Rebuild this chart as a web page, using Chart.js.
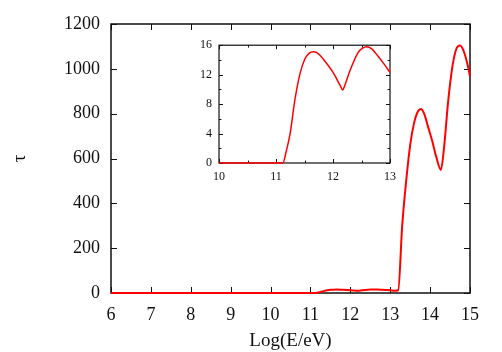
<!DOCTYPE html>
<html>
<head>
<meta charset="utf-8">
<script src="https://cdn.jsdelivr.net/npm/chart.js@4.4.0/dist/chart.umd.min.js"></script>
<style>
body { margin: 0; background: #fff; }
#wrap { position: relative; width: 502px; height: 352px; }
#main { position: absolute; left: 0; top: 0; }
#inset { position: absolute; left: 180px; top: 31px; }
</style>
</head>
<body>
<div id="wrap">
	<canvas id="main" width="502" height="352"></canvas>
	<canvas id="inset" width="230" height="165"></canvas>
</div>
<script>
// flat part below 10
var baseE = [6, 8];
var baseTau = [0, 0];

// low energy bump (shown in inset)
var lowE = [10, 11.1, 11.12, 11.18, 11.25, 11.33, 11.42, 11.51, 11.58, 11.66, 11.75, 11.83, 11.92, 12.0, 12.08, 12.14, 12.17, 12.2, 12.3, 12.44, 12.52, 12.59, 12.68, 12.78, 12.9, 13.0];
var lowTau = [0, 0, 0, 1.6, 4.1, 8.5, 12.1, 14.2, 14.9, 15.1, 14.8, 14.1, 13.2, 12.3, 11.2, 10.3, 9.9, 10.4, 12.6, 15.0, 15.6, 15.8, 15.5, 14.6, 13.4, 12.3];

// high energy part
var highE = [13.1, 13.2, 13.3, 13.4, 13.5, 13.6, 13.7, 13.77, 13.85, 13.95, 14.05, 14.15, 14.27, 14.35, 14.45, 14.55, 14.65, 14.75, 14.85, 14.95, 15.0];
var highTau = [10, 12, 300, 500, 660, 760, 812, 821, 800, 740, 680, 610, 549, 650, 850, 1000, 1085, 1104, 1075, 1010, 966];

var mainXTicks = [6, 7, 8, 9, 10, 11, 12, 13, 14, 15];
var mainYTicks = [0, 200, 400, 600, 800, 1000, 1200];
var insetXTicks = [10, 11, 12, 13];
var insetXMinor = [10.5, 11.5, 12.5];
var insetYTicks = [0, 4, 8, 12, 16];
var insetYMinor = [2, 6, 10, 14];

function points(xs, ys) {
	var out = [];
	for (var i in xs) {
		out.push({x: xs[i], y: ys[i]});
	}
	return out;
}

function plain(v) { return String(v); }

// box round the plot, ticks pointing inward on all four sides
var frameTicks = {
	id: 'frameTicks',
	beforeDatasetsDraw: function(chart, args, opts) {
		var a = chart.chartArea, ctx = chart.ctx;
		var sx = chart.scales.x, sy = chart.scales.y;
		ctx.save();
		ctx.strokeStyle = '#111';
		ctx.lineWidth = opts.width;
		ctx.beginPath();
		function xt(list, len) {
			list.forEach(function(v) {
				var p = Math.round(sx.getPixelForValue(v)) + 0.5;
				ctx.moveTo(p, a.bottom); ctx.lineTo(p, a.bottom - len);
				ctx.moveTo(p, a.top); ctx.lineTo(p, a.top + len);
			});
		}
		function yt(list, len) {
			list.forEach(function(v) {
				var p = Math.round(sy.getPixelForValue(v)) + 0.5;
				ctx.moveTo(a.left, p); ctx.lineTo(a.left + len, p);
				ctx.moveTo(a.right, p); ctx.lineTo(a.right - len, p);
			});
		}
		xt(opts.xMajor, opts.len);
		yt(opts.yMajor, opts.len);
		xt(opts.xMinor, opts.len * 0.6);
		yt(opts.yMinor, opts.len * 0.6);
		ctx.stroke();
		ctx.lineWidth = opts.frame;
		ctx.strokeRect(a.left, a.top, a.width, a.height);
		ctx.restore();
	}
};

Chart.register(frameTicks);

var serif = '"Liberation Serif", "DejaVu Serif", serif';

new Chart(document.getElementById('main'), {
	type: 'line',
	data: {
		datasets: [{
			data: points(baseE.concat(lowE, highE), baseTau.concat(lowTau, highTau)),
			borderColor: '#ff0000',
			borderWidth: 2,
			pointRadius: 0,
			fill: false,
			cubicInterpolationMode: 'monotone',
			clip: 4
		}]
	},
	options: {
		responsive: false,
		animation: false,
		layout: { padding: { left: 0, right: 32, top: 24, bottom: 0 } },
		plugins: {
			legend: { display: false },
			tooltip: { enabled: false },
			frameTicks: { xMajor: mainXTicks, yMajor: mainYTicks, xMinor: [], yMinor: [], len: 6, width: 1, frame: 1.5 }
		},
		scales: {
			x: {
				type: 'linear', min: 6, max: 15,
				afterBuildTicks: function(s) { s.ticks = mainXTicks.map(function(v) { return {value: v}; }); },
				afterFit: function(s) { s.height = 59; },
				grid: { display: false, drawTicks: false },
				border: { display: false },
				ticks: { padding: 11, color: '#111', font: { family: serif, size: 18 }, maxRotation: 0, callback: plain },
				title: { display: true, text: 'Log(E/eV)', color: '#111', font: { family: serif, size: 19 }, padding: 0 }
			},
			y: {
				min: 0, max: 1200,
				afterBuildTicks: function(s) { s.ticks = mainYTicks.map(function(v) { return {value: v}; }); },
				afterFit: function(s) { s.width = 111; },
				grid: { display: false, drawTicks: false },
				border: { display: false },
				ticks: { padding: 11, color: '#111', font: { family: serif, size: 18 }, callback: plain },
				title: { display: true, text: 'τ', color: '#111', font: { family: serif, size: 19 }, padding: { top: 9, bottom: 0 } }
			}
		}
	}
});

new Chart(document.getElementById('inset'), {
	type: 'line',
	data: {
		datasets: [{
			data: points(lowE, lowTau),
			borderColor: '#ff0000',
			borderWidth: 1.5,
			pointRadius: 0,
			fill: false,
			cubicInterpolationMode: 'monotone',
			clip: 3
		}]
	},
	options: {
		responsive: false,
		animation: false,
		layout: { padding: { left: 0, right: 20, top: 7, bottom: 0 } },
		plugins: {
			legend: { display: false },
			tooltip: { enabled: false },
			frameTicks: { xMajor: insetXTicks, yMajor: insetYTicks, xMinor: insetXMinor, yMinor: insetYMinor, len: 4, width: 1, frame: 1.2 }
		},
		scales: {
			x: {
				type: 'linear', min: 10, max: 13,
				afterBuildTicks: function(s) { s.ticks = insetXTicks.map(function(v) { return {value: v}; }); },
				afterFit: function(s) { s.height = 33; },
				grid: { display: false, drawTicks: false },
				border: { display: false },
				ticks: { padding: 7, color: '#111', font: { family: serif, size: 12 }, maxRotation: 0, callback: plain }
			},
			y: {
				min: 0, max: 16,
				afterBuildTicks: function(s) { s.ticks = insetYTicks.map(function(v) { return {value: v}; }); },
				afterFit: function(s) { s.width = 39; },
				grid: { display: false, drawTicks: false },
				border: { display: false },
				ticks: { padding: 7, color: '#111', font: { family: serif, size: 12 }, callback: plain }
			}
		}
	}
});
</script>
</body>
</html>
